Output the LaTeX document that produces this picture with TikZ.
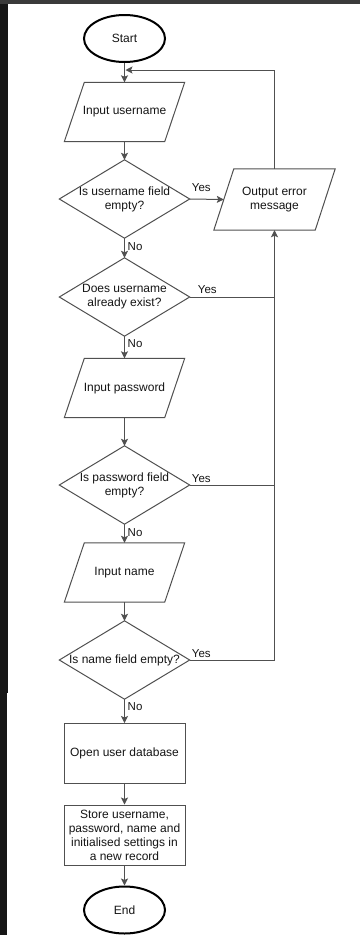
\documentclass[tikz,border=0pt]{standalone}
\usepackage{fontspec}
\setmainfont{Liberation Sans}
\usetikzlibrary{arrows.meta,calc,shapes.geometric}
\definecolor{lncol}{HTML}{505050}
\definecolor{txtcol}{HTML}{151515}
\definecolor{darkleft}{HTML}{161616}
\definecolor{darktop}{HTML}{3A3A3A}
\newcommand\ioshape[1]{\draw[outline] ($(#1.north west)+(10,0)$) -- ($(#1.north east)+(10,0)$) -- ($(#1.south east)+(-10,0)$) -- ($(#1.south west)+(-10,0)$) -- cycle;}
\newcommand\decshape[1]{\draw[outline] (#1.north) -- (#1.east) -- (#1.south) -- (#1.west) -- cycle;}
\begin{document}
\begin{tikzpicture}[x=1pt,y=-1pt,
  txtfont/.style={font=\fontsize{12}{14}\selectfont, text=txtcol},
  box/.style={rectangle, inner sep=0pt, align=center, txtfont},
  iobox/.style={box, minimum width=100pt, minimum height=59pt},
  decbox/.style={box, minimum width=130pt, minimum height=78pt},
  procbox/.style={box, draw=lncol, line width=1pt, minimum width=121pt, minimum height=60pt},
  term/.style={ellipse, draw=black, line width=2pt, minimum width=81pt, minimum height=47pt, inner sep=0pt, txtfont},
  outline/.style={draw=lncol, line width=1pt, line join=miter},
  conn/.style={draw=lncol, line width=1pt, -{Stealth[length=7pt,width=7pt,inset=1.5pt]}},
  plainln/.style={draw=lncol, line width=1pt},
  lbl/.style={inner sep=0pt, font=\fontsize{11.5}{13}\selectfont, text=txtcol}
]
\useasboundingbox (0,0) rectangle (360,935);
% background
\fill[darkleft] (0,0) rectangle (360,935);
\fill[darktop] (0,0) rectangle (360,4);
\fill[white] (8,4) rectangle (360,935);
\fill[white] (7,693) rectangle (8,935);

% nodes
\node[term] (start) at (124.5,38.5) {Start};
\node[iobox] (inu) at (124.5,112) {Input username};
\node[decbox] (d1) at (124.5,199) {Is username field\\empty?};
\node[box, minimum width=101pt, minimum height=61pt] (err) at (274.5,199.5) {Output error\\message};
\node[decbox] (d2) at (124.5,297) {Does username\\already exist?};
\node[iobox] (inp) at (124.5,388) {Input password};
\node[decbox] (d3) at (124.5,485) {Is password field\\empty?};
\node[iobox] (inn) at (124.5,572.5) {Input name};
\node[decbox] (d4) at (124.5,660) {Is name field empty?};
\node[procbox] (open) at (124.5,753.5) {Open user database};
\node[procbox] (store) at (124.5,835) {Store username,\\password, name and\\initialised settings in\\a new record};
\node[term] (end) at (124.5,910) {End};

% outlines
\ioshape{inu}
\ioshape{err}
\ioshape{inp}
\ioshape{inn}
\decshape{d1}
\decshape{d2}
\decshape{d3}
\decshape{d4}

% main flow
\draw[conn] (start.south) -- (inu.north);
\draw[conn] (inu.south) -- (d1.north);
\draw[conn] (d1.south) -- (d2.north);
\draw[conn] (d2.south) -- (inp.north);
\draw[conn] (inp.south) -- (d3.north);
\draw[conn] (d3.south) -- (inn.north);
\draw[conn] (inn.south) -- (d4.north);
\draw[conn] (d4.south) -- (open.north);
\draw[conn] (open.south) -- (store.north);
\draw[conn] (store.south) -- (end.north);

% yes branches
\draw[conn] (d1.east) -- (err.west);
\draw[plainln] (d2.east) -- (d2.east -| err.south);
\draw[plainln] (d3.east) -- (d3.east -| err.south);
\draw[conn] (d4.east) -| (err.south);

% loop back
\coordinate (back) at (125.5,70);
\draw[conn] (err.north) |- (back);

% labels
\node[lbl, anchor=west] (y1) at ($(d1.east)+(2,-11)$) {Yes};
\node[lbl, anchor=west] (y2) at ($(d2.east)+(8,-7)$) {Yes};
\node[lbl, anchor=west] (y3) at ($(d3.east)+(2,-6)$) {Yes};
\node[lbl, anchor=west] (y4) at ($(d4.east)+(2,-6)$) {Yes};
\node[lbl, anchor=west] (n1) at ($(d1.south)+(3,8.5)$) {No};
\node[lbl, anchor=west] (n2) at ($(d2.south)+(3,7.5)$) {No};
\node[lbl, anchor=west] (n3) at ($(d3.south)+(3,8)$) {No};
\node[lbl, anchor=west] (n4) at ($(d4.south)+(3,7)$) {No};
\end{tikzpicture}
\end{document}
